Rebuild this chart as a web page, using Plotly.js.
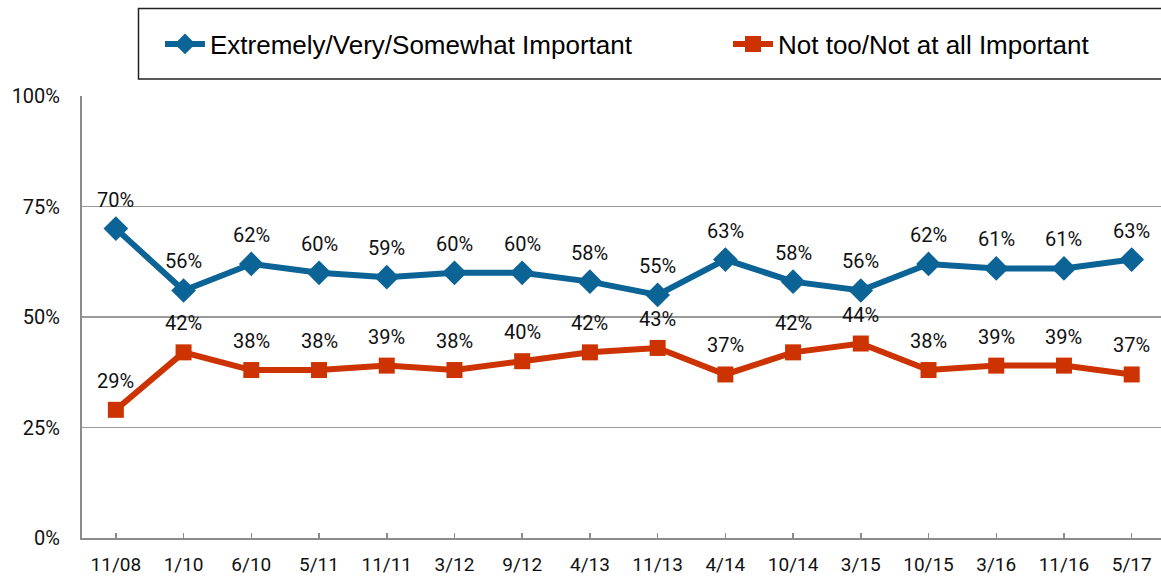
<!DOCTYPE html>
<html>
<head>
<meta charset="utf-8">
<script src="https://cdn.plot.ly/plotly-3.0.1.min.js"></script>
<style>html,body{margin:0;padding:0;background:#fff}#chart{width:1161px;height:578px}</style>
</head>
<body>
<div id="chart"></div>
<script>
const categories = ["11/08","1/10","6/10","5/11","11/11","3/12","9/12","4/13","11/13","4/14","10/14","3/15","10/15","3/16","11/16","5/17"];
const importantValues = [70,56,62,60,59,60,60,58,55,63,58,56,62,61,61,63];
const notImportantValues = [29,42,38,38,39,38,40,42,43,37,42,44,38,39,39,37];
const seriesNames = ["Extremely/Very/Somewhat Important","Not too/Not at all Important"];
const yTicks = [0,25,50,75,100];

const W = 1161, H = 578;
const mL = 82, mR = 0, mT = 96, mB = 40;
const plotW = W - mL - mR, plotH = H - mT - mB;
function px2paperX(px){ return (px - mL) / plotW; }
function px2paperY(py){ return (H - mB - py) / plotH; }

const blue = "#0B6396";
const red = "#CC3300";
const legendFont = {family: "Liberation Sans, Arial, sans-serif", size: 26, color: "#000"};

const traces = [
  {x: categories, y: importantValues, name: seriesNames[0], type: "scatter", mode: "lines+markers", legend: "legend",
   line: {color: blue, width: 6}, marker: {symbol: "diamond", size: 19, color: blue}},
  {x: categories, y: notImportantValues, name: seriesNames[1], type: "scatter", mode: "lines+markers", legend: "legend2",
   line: {color: red, width: 6}, marker: {symbol: "square", size: 16, color: red}}
];

const annotations = [];
[importantValues, notImportantValues].forEach(vals => {
  vals.forEach((v, i) => {
    annotations.push({x: categories[i], y: v, xref: "x", yref: "y", text: v + "%", showarrow: false,
      yshift: 29, font: {family: "Roboto, Arial, sans-serif", size: 20, color: "#111"}});
  });
});

const layout = {
  width: W, height: H,
  margin: {l: mL, r: mR, t: mT, b: mB, pad: 0},
  paper_bgcolor: "#fff", plot_bgcolor: "#fff",
  showlegend: true,
  legend: {orientation: "h", x: px2paperX(160), y: px2paperY(44), xanchor: "left", yanchor: "middle",
    font: legendFont, bgcolor: "rgba(0,0,0,0)", borderwidth: 0, itemwidth: 40},
  legend2: {orientation: "h", x: px2paperX(728), y: px2paperY(44), xanchor: "left", yanchor: "middle",
    font: legendFont, bgcolor: "rgba(0,0,0,0)", borderwidth: 0, itemwidth: 40},
  xaxis: {type: "category", range: [-0.5, 15 + (W - 1131.7) / 67.7], showgrid: false, zeroline: false,
    showline: true, linecolor: "#8c8c8c", linewidth: 2, ticks: "inside", ticklen: 5, tickcolor: "#8c8c8c", tickwidth: 1.5,
    tickfont: {family: "Roboto, Arial, sans-serif", size: 19, color: "#111"}, ticklabelstandoff: 8, fixedrange: true},
  yaxis: {range: [0, 100], tickvals: yTicks, ticktext: yTicks.map(v => v + "%"), showgrid: true, gridcolor: "#9a9a9a", gridwidth: 1.5,
    zeroline: false, showline: true, linecolor: "#8c8c8c", linewidth: 2, ticks: "",
    tickfont: {family: "Roboto, Arial, sans-serif", size: 20, color: "#111"}, ticklabelstandoff: 16, fixedrange: true},
  shapes: [{type: "rect", xref: "paper", yref: "paper", x0: px2paperX(138.5), x1: px2paperX(1170), y0: px2paperY(79), y1: px2paperY(8.5),
    line: {color: "#222", width: 1.5}, fillcolor: "rgba(0,0,0,0)", layer: "above"}],
  annotations: annotations
};

Plotly.newPlot("chart", traces, layout, {displayModeBar: false, staticPlot: true});
</script>
</body>
</html>
